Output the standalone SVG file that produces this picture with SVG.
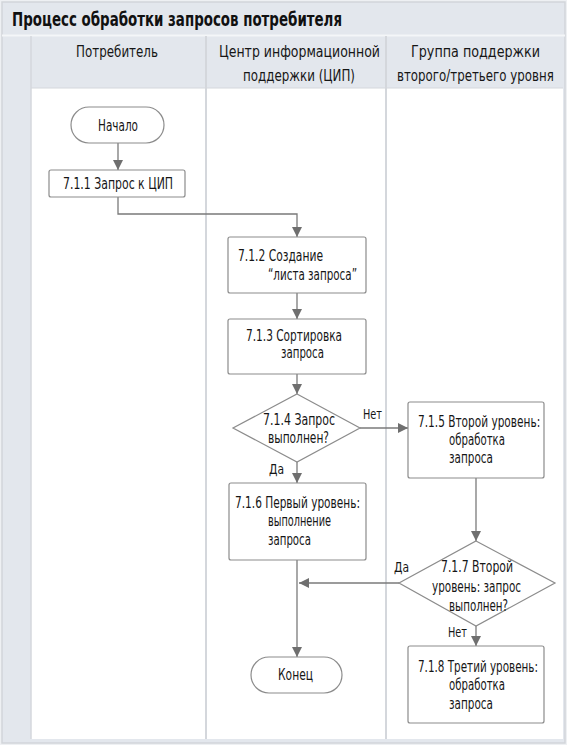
<svg xmlns="http://www.w3.org/2000/svg" width="567" height="745" viewBox="0 0 567 745">
<style>
text{font-family:"DejaVu Sans Condensed","DejaVu Sans","Liberation Sans",sans-serif;fill:#161616;font-size:15px}
.title{font-size:20px;font-weight:bold;fill:#111}
.hdr{font-size:15px}
.box{fill:#fff;stroke:#8c8c8c;stroke-width:1.2}
.conn{fill:none;stroke:#7a7a7a;stroke-width:1.3}
.lbl{font-size:14px}
</style>
<defs>
<marker id="arr" markerUnits="userSpaceOnUse" markerWidth="12" markerHeight="12" refX="10" refY="5" orient="auto">
<path d="M0,0 L10,5 L0,10 Z" fill="#6f6f6f"/>
</marker>
</defs>
<!-- frame -->
<rect x="0" y="0" width="567" height="745" fill="#eef0f3"/>
<rect x="2" y="2" width="563" height="741" fill="#e3e7ed" stroke="#d2d5da" stroke-width="1.5"/>
<line x1="2" y1="35.5" x2="565" y2="35.5" stroke="#f4f6f8" stroke-width="2"/>
<rect x="31" y="88" width="532" height="651" fill="#fff"/>
<line x1="31" y1="36" x2="31" y2="739" stroke="#d4d7dc" stroke-width="1.5"/>
<line x1="206" y1="36" x2="206" y2="739" stroke="#d4d7dc" stroke-width="2"/>
<line x1="386" y1="36" x2="386" y2="739" stroke="#d4d7dc" stroke-width="2"/>
<line x1="31" y1="88" x2="563" y2="88" stroke="#d4d7dc" stroke-width="1"/>
<text class="title" x="12" y="26" textLength="330" lengthAdjust="spacingAndGlyphs">Процесс обработки запросов потребителя</text>
<g id="lane-headers">
<text class="hdr" x="76" y="57" textLength="82" lengthAdjust="spacingAndGlyphs">Потребитель</text>
<text class="hdr" x="219" y="57" textLength="161" lengthAdjust="spacingAndGlyphs">Центр информационной</text>
<text class="hdr" x="243" y="81" textLength="112" lengthAdjust="spacingAndGlyphs">поддержки (ЦИП)</text>
<text class="hdr" x="411" y="57" textLength="129" lengthAdjust="spacingAndGlyphs">Группа поддержки</text>
<text class="hdr" transform="translate(397,81) scale(0.8,1)" x="0" y="0" textLength="196" lengthAdjust="spacingAndGlyphs">второго/третьего уровня</text>
</g>
<g id="connectors">
<path class="conn" marker-end="url(#arr)" d="M118,143 V170"/>
<path class="conn" marker-end="url(#arr)" d="M118,197 V214 H297 V237"/>
<path class="conn" marker-end="url(#arr)" d="M297,293 V319"/>
<path class="conn" marker-end="url(#arr)" d="M297,374 V394"/>
<path class="conn" marker-end="url(#arr)" d="M360,428 H408"/>
<path class="conn" marker-end="url(#arr)" d="M297,462 V483"/>
<path class="conn" marker-end="url(#arr)" d="M476,478 V541"/>
<path class="conn" marker-end="url(#arr)" d="M476,626 V646"/>
<path class="conn" marker-end="url(#arr)" d="M297,560 V657"/>
<path class="conn" marker-end="url(#arr)" d="M399,583 H299"/>
<text class="lbl" x="363" y="419" textLength="19" lengthAdjust="spacingAndGlyphs">Нет</text>
<text class="lbl" x="269" y="474" textLength="15" lengthAdjust="spacingAndGlyphs">Да</text>
<text class="lbl" x="394" y="572" textLength="15" lengthAdjust="spacingAndGlyphs">Да</text>
<text class="lbl" x="448" y="637" textLength="19" lengthAdjust="spacingAndGlyphs">Нет</text>
</g>
<g id="start">
<rect class="box" x="71" y="107" width="93" height="36" rx="18"/>
<text x="98" y="131" textLength="40" lengthAdjust="spacingAndGlyphs">Начало</text>
</g>
<g id="n711">
<rect class="box" x="49" y="170" width="136" height="27" rx="2"/>
<text x="63" y="189" textLength="110" lengthAdjust="spacingAndGlyphs">7.1.1 Запрос к ЦИП</text>
</g>
<g id="n712">
<rect class="box" x="228" y="237" width="138" height="56" rx="2"/>
<text x="238" y="261" textLength="85" lengthAdjust="spacingAndGlyphs">7.1.2 Создание</text>
<text x="268" y="280" textLength="89" lengthAdjust="spacingAndGlyphs">“листа запроса”</text>
</g>
<g id="n713">
<rect class="box" x="228" y="319" width="138" height="55" rx="2"/>
<text x="246" y="341" textLength="96" lengthAdjust="spacingAndGlyphs">7.1.3 Сортировка</text>
<text x="281" y="358" textLength="43" lengthAdjust="spacingAndGlyphs">запроса</text>
</g>
<g id="n714">
<polygon class="box" points="297,394 360,428 297,462 233,428"/>
<text x="263" y="425" textLength="72" lengthAdjust="spacingAndGlyphs">7.1.4 Запрос</text>
<text x="268" y="443" textLength="61" lengthAdjust="spacingAndGlyphs">выполнен?</text>
</g>
<g id="n715">
<rect class="box" x="408" y="402" width="136" height="76" rx="2"/>
<text transform="translate(418,427) scale(0.75,1)" x="0" y="0" textLength="163" lengthAdjust="spacingAndGlyphs">7.1.5 Второй уровень:</text>
<text x="449" y="445" textLength="56" lengthAdjust="spacingAndGlyphs">обработка</text>
<text x="449" y="463" textLength="44" lengthAdjust="spacingAndGlyphs">запроса</text>
</g>
<g id="n716">
<rect class="box" x="229" y="483" width="137" height="77" rx="2"/>
<text x="235" y="508" textLength="125" lengthAdjust="spacingAndGlyphs">7.1.6 Первый уровень:</text>
<text x="268" y="526" textLength="63" lengthAdjust="spacingAndGlyphs">выполнение</text>
<text x="268" y="545" textLength="43" lengthAdjust="spacingAndGlyphs">запроса</text>
</g>
<g id="n717">
<polygon class="box" points="476,541 555,583 476,626 399,583"/>
<text x="441" y="572" textLength="72" lengthAdjust="spacingAndGlyphs">7.1.7 Второй</text>
<text x="432" y="592" textLength="89" lengthAdjust="spacingAndGlyphs">уровень: запрос</text>
<text x="449" y="611" textLength="59" lengthAdjust="spacingAndGlyphs">выполнен?</text>
</g>
<g id="n718">
<rect class="box" x="408" y="646" width="136" height="77" rx="2"/>
<text transform="translate(418,672) scale(0.75,1)" x="0" y="0" textLength="160" lengthAdjust="spacingAndGlyphs">7.1.8 Третий уровень:</text>
<text x="449" y="690" textLength="56" lengthAdjust="spacingAndGlyphs">обработка</text>
<text x="449" y="709" textLength="44" lengthAdjust="spacingAndGlyphs">запроса</text>
</g>
<g id="end">
<rect class="box" x="251" y="657" width="91" height="36" rx="18"/>
<text x="278" y="680" textLength="35" lengthAdjust="spacingAndGlyphs">Конец</text>
</g>
</svg>
